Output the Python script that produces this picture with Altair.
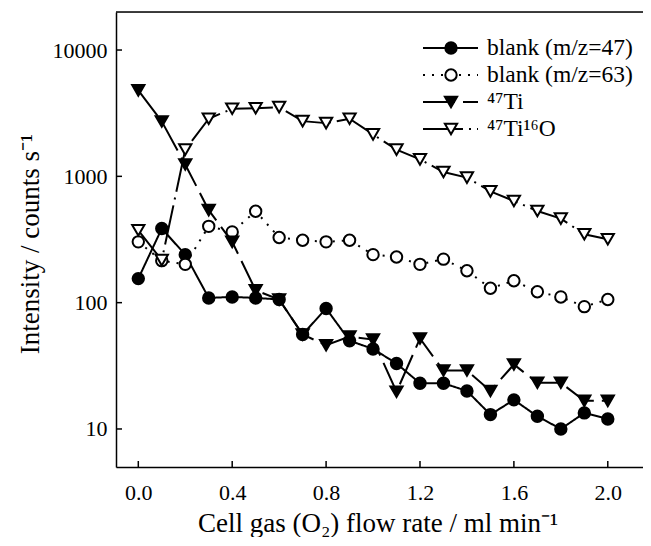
import altair as alt
import pandas as pd

# ---- data ----
flow = [0.0, 0.1, 0.2, 0.3, 0.4, 0.5, 0.6, 0.7, 0.8, 0.9, 1.0,
        1.1, 1.2, 1.3, 1.4, 1.5, 1.6, 1.7, 1.8, 1.9, 2.0]
blank47 = [155, 386, 240, 109, 111, 109, 106, 56, 90, 50, 43,
           33, 23, 23, 20, 13, 17, 12.6, 10, 13.4, 12]
blank63 = [303, 215, 201, 402, 363, 529, 328, 312, 303, 312, 240,
           230, 201, 221, 179, 130, 149, 122, 111, 93, 106]
ti47 = [4790, 2720, 1240, 540, 303, 125, 106, 56, 46, 54, 51,
        19.7, 52, 29, 29, 20, 32.4, 23.2, 23.2, 16.7, 16.7]
ti47o16 = [374, 217, 1626, 2858, 3430, 3464, 3530, 2736, 2637, 2858, 2148,
           1626, 1363, 1081, 977, 761, 638, 532, 463, 348, 318]

series_names = ["blank (m/z=47)", "blank (m/z=63)", "\u2074\u2077Ti", "\u2074\u2077Ti\u00b9\u2076O"]
x_ticks = [0.0, 0.4, 0.8, 1.2, 1.6, 2.0]
y_ticks = [10, 100, 1000, 10000]

FONT = "Liberation Serif"
W, H = 527, 455

xscale = alt.Scale(domain=[-0.095, 2.15], nice=False, zero=False)
yscale = alt.Scale(type="log", domain=[5, 20000], nice=False)

xaxis = alt.Axis(values=x_ticks, format=".1f", ticks=False, grid=False,
                 domainColor="black", domainWidth=1.5,
                 labelFont=FONT, labelFontSize=22, labelColor="black",
                 labelPadding=15,
                 title="Cell gas (O\u2082) flow rate / ml min\u207b\u00b9",
                 titleFont=FONT, titleFontSize=27, titleFontWeight="normal",
                 titleColor="black", titleX=W / 2 - 2, titleY=56,
                 titleBaseline="middle", titleAlign="center")
yaxis = alt.Axis(values=y_ticks, format="d", ticks=False, grid=False,
                 domainColor="black", domainWidth=1.5,
                 labelFont=FONT, labelFontSize=22, labelColor="black",
                 labelPadding=9,
                 title="Intensity / counts s\u207b\u00b9",
                 titleFont=FONT, titleFontSize=27, titleFontWeight="normal",
                 titleColor="black", titleX=-86, titleY=H / 2 + 4,
                 titleAngle=-90, titleBaseline="middle", titleAlign="center")

styles = [
    dict(y=blank47, shape="circle", fill="black", dash=[1, 0], size=130),
    dict(y=blank63, shape="circle", fill="white", dash=[2, 7], size=130),
    dict(y=ti47, shape="triangle-down", fill="black", dash=[32, 8], size=150),
    dict(y=ti47o16, shape="triangle-down", fill="white", dash=[40, 6, 2, 6], size=150),
]


def X(field):
    return alt.X(field, scale=xscale, axis=xaxis)


def Y(field):
    return alt.Y(field, scale=yscale, axis=yaxis)


layers = []
for st in styles:
    df = pd.DataFrame({"x": flow, "y": st["y"]})
    layers.append(alt.Chart(df).mark_line(color="black", strokeWidth=2, strokeDash=st["dash"]).encode(
        x=X("x:Q"), y=Y("y:Q")))

for st in styles:
    df = pd.DataFrame({"x": flow, "y": st["y"]})
    layers.append(alt.Chart(df).mark_point(shape=st["shape"], filled=True, fill=st["fill"], stroke="black",
                                           strokeWidth=2, size=st["size"], opacity=1).encode(
        x=X("x:Q"), y=Y("y:Q")))

# inward ticks
xt = alt.Chart(pd.DataFrame({"x": x_ticks})).mark_rule(color="black", strokeWidth=1.5).encode(
    x=X("x:Q"), y=alt.value(H - 6), y2=alt.value(H))
yt = alt.Chart(pd.DataFrame({"y": y_ticks})).mark_rule(color="black", strokeWidth=1.5).encode(
    y=Y("y:Q"), x=alt.value(0), x2=alt.value(6))
top = alt.Chart(pd.DataFrame({"a": [0]})).mark_rule(color="black", strokeWidth=1.5).encode(
    x=alt.value(0), x2=alt.value(W), y=alt.value(0))
layers += [xt, yt, top]

# legend
row_y = [36, 63, 90, 117]
for i, (st, name) in enumerate(zip(styles, series_names)):
    d = pd.DataFrame({"label": [name]})
    layers.append(alt.Chart(d).mark_rule(color="black", strokeWidth=2, strokeDash=st["dash"]).encode(
        x=alt.value(307), x2=alt.value(362), y=alt.value(row_y[i])))
    layers.append(alt.Chart(d).mark_point(shape=st["shape"], filled=True, fill=st["fill"], stroke="black",
                                          strokeWidth=2, size=st["size"], opacity=1).encode(
        x=alt.value(335), y=alt.value(row_y[i])))
    layers.append(alt.Chart(d).mark_text(font=FONT, fontSize=23.5, align="left", baseline="middle",
                                         color="black").encode(
        x=alt.value(371), y=alt.value(row_y[i]), text="label:N"))

chart = alt.layer(*layers).properties(
    width=W, height=H,
    autosize=alt.AutoSizeParams(type="none"),
    padding={"left": 108, "top": 4, "right": 0, "bottom": 70},
).configure_view(stroke=None).configure(background="white")

chart.save("out.html", embed_options={"renderer": "svg", "actions": False})
